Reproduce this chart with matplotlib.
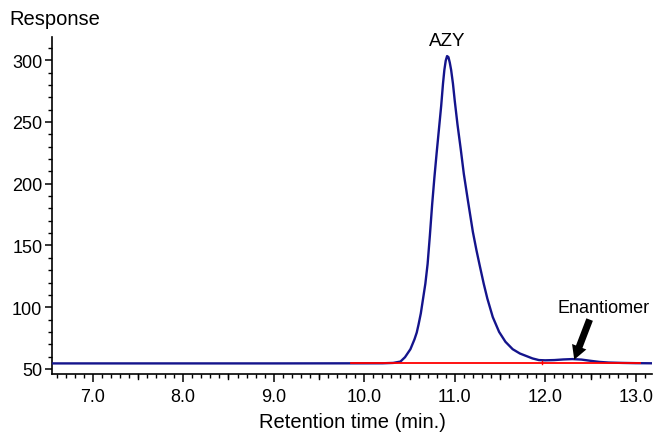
import matplotlib.pyplot as plt
from matplotlib.ticker import MultipleLocator

plt.rcParams['font.family'] = ['Liberation Sans', 'DejaVu Sans']

# Chromatogram trace (retention time in min, response)
time = [6.55, 9.0, 10.2, 10.32, 10.40, 10.45, 10.51, 10.555, 10.58, 10.60, 10.625,
        10.65, 10.675, 10.70, 10.725, 10.75, 10.775, 10.80, 10.825, 10.85, 10.87,
        10.885, 10.90, 10.915, 10.93, 10.945, 10.96, 10.98, 11.0, 11.03, 11.066,
        11.10, 11.146, 11.2, 11.24, 11.275, 11.32, 11.36, 11.42, 11.49, 11.56,
        11.64, 11.72, 11.79, 11.86, 11.93, 12.0, 12.1, 12.2, 12.3, 12.4, 12.5,
        12.6, 12.7, 12.85, 13.0, 13.18]
response = [54.5, 54.5, 54.6, 54.9, 56.0, 59.5, 66.0, 74.0, 79.5, 86.0, 95.0,
            107.0, 119.0, 135.0, 158.0, 183.0, 205.0, 225.0, 244.0, 263.0, 281.0,
            292.0, 299.5, 303.3, 302.5, 298.0, 292.0, 281.0, 267.0, 248.0, 228.0,
            208.0, 186.0, 161.0, 146.0, 134.0, 119.0, 107.0, 92.0, 80.0, 72.0,
            66.0, 62.5, 60.5, 58.5, 57.2, 57.0, 57.2, 57.7, 58.0, 57.6, 56.6,
            55.7, 55.2, 54.9, 54.7, 54.6]

# Integration baseline (red)
base_time = [9.85, 13.05]
base_resp = [54.8, 54.8]
split_time = 11.96

fig = plt.figure(figsize=(6.58, 4.39), dpi=100, facecolor='white')
ax = fig.add_axes([0.079, 0.146, 0.912, 0.767])

ax.plot(time, response, color='#14148c', lw=1.7, zorder=3,
        solid_joinstyle='round', solid_capstyle='round')
ax.plot(base_time, base_resp, color='#ff0000', lw=1.3, zorder=4)
ax.plot([split_time, split_time], [53.8, 56.8], color='#ff0000', lw=1.0, zorder=4)

ax.set_xlim(6.55, 13.18)
ax.set_ylim(46, 318.6)

# ticks
ax.xaxis.set_major_locator(MultipleLocator(1.0))
ax.xaxis.set_minor_locator(MultipleLocator(0.1))
ax.yaxis.set_major_locator(MultipleLocator(50))
ax.yaxis.set_minor_locator(MultipleLocator(10))
ax.xaxis.set_major_formatter(plt.FormatStrFormatter('%.1f'))
ax.tick_params(axis='x', which='major', length=6, width=1.1, direction='out', labelsize=13, pad=4)
ax.tick_params(axis='x', which='minor', length=3, width=1.0, direction='out')
ax.tick_params(axis='y', which='major', length=5, width=1.1, direction='out', labelsize=13, pad=2)
ax.tick_params(axis='y', which='minor', length=3, width=1.0, direction='out')

# medium ticks at half-minute marks
for t in [7.5, 8.5, 9.5, 10.5, 11.5, 12.5]:
    ax.plot([t, t], [0, -0.014], color='black', lw=1.0,
            transform=ax.get_xaxis_transform(), clip_on=False)

for s in ['top', 'right']:
    ax.spines[s].set_visible(False)
for s in ['left', 'bottom']:
    ax.spines[s].set_linewidth(1.2)

ax.set_xlabel('Retention time (min.)', fontsize=14.5, labelpad=5)
fig.text(0.014, 0.935, 'Response', fontsize=14.5, ha='left', va='bottom')

ax.text(10.92, 309, 'AZY', fontsize=13.5, ha='center', va='bottom')
ax.text(12.64, 93, 'Enantiomer', fontsize=13, ha='center', va='bottom')
ax.annotate('', xy=(12.32, 57.5), xytext=(12.49, 90),
            arrowprops=dict(arrowstyle='simple,head_width=1.1,head_length=1.0,tail_width=0.5',
                            color='black', lw=0, shrinkA=0, shrinkB=0))

plt.savefig('out.png', dpi=100)
